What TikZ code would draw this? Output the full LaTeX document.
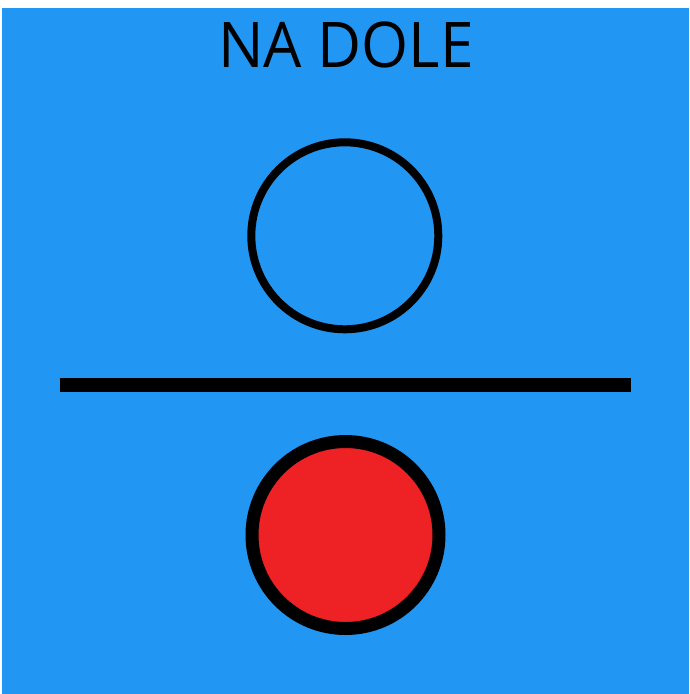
\documentclass[tikz,border=0pt]{standalone}
\usepackage{fontspec}
\setmainfont{Open Sans}
\definecolor{bgblue}{HTML}{2196F3}
\definecolor{ballred}{HTML}{EE2224}
\begin{document}
\begin{tikzpicture}[x=1pt,y=-1pt,
  ring/.style={draw=black,line width=8pt},
  ball/.style={draw=black,fill=ballred,line width=13pt},
  bar/.style={draw=black,line width=14pt},
  title/.style={font=\fontsize{63}{63}\selectfont,text=black,inner sep=0pt,anchor=base,xscale=0.96}]
\useasboundingbox (0,0) rectangle (689,694);
\fill[white] (0,0) rectangle (689,694);
\fill[bgblue] (2,8) rectangle (689,694);
\node[title] (t) at (346,67) {NA DOLE};
\draw[ring] (344.8,235.8) circle (93.5);
\coordinate (l1) at (60,385);
\coordinate (l2) at (630.7,385);
\draw[bar] (l1) -- (l2);
\draw[ball] (345.5,535) circle (93.5);
\end{tikzpicture}
\end{document}
